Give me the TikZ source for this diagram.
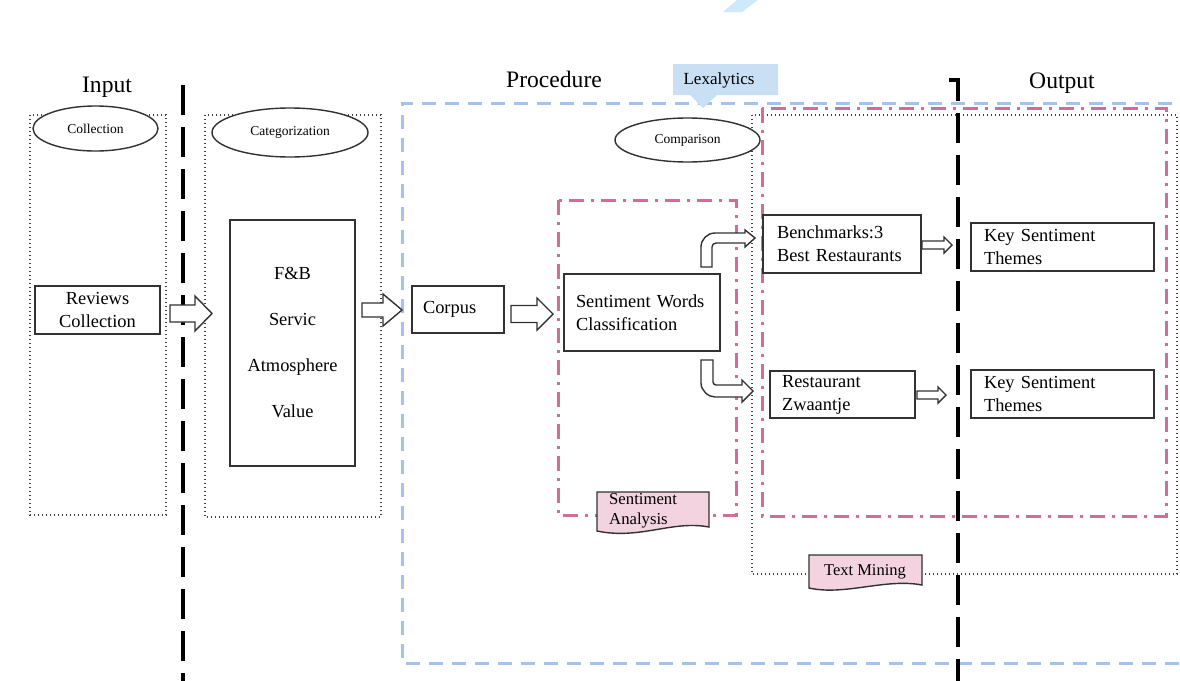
\documentclass[tikz,border=0pt]{standalone}
\usepackage{fontspec}
\setmainfont{Liberation Serif}
\usetikzlibrary{shapes.geometric}

\definecolor{dashblue}{RGB}{164,194,240}
\definecolor{dashpink}{RGB}{210,108,153}
\definecolor{tagpink}{RGB}{243,211,223}
\definecolor{calloutblue}{RGB}{201,223,243}
\definecolor{streakblue}{RGB}{205,234,250}
\definecolor{boxline}{RGB}{50,50,50}

% block arrow: x start, x tip, x of head base, y centre, half body, half head
\newcommand\hollowarrow[6]{%
  \draw[hollow] (#1,#4-#5) -- (#3,#4-#5) -- (#3,#4-#6) -- (#2,#4)
    -- (#3,#4+#6) -- (#3,#4+#5) -- (#1,#4+#5) -- cycle;}

\begin{document}
\begin{tikzpicture}[x=1pt, y=-1pt,
  box/.style={draw=boxline, line width=1.4pt, fill=white, inner sep=0pt,
    font=\fontsize{18.4}{23}\selectfont, align=center},
  lbox/.style={box, align=left},
  oval/.style={ellipse, draw=boxline, line width=1.4pt, fill=white, inner sep=0pt,
    font=\fontsize{13.5}{16}\selectfont},
  heading/.style={anchor=base, font=\fontsize{23.6}{28}\selectfont},
  region/.style={draw=black!75, line width=1.2pt, dash pattern=on 1.2pt off 2.8pt},
  procframe/.style={draw=dashblue, line width=3pt, dash pattern=on 14pt off 9pt},
  pinkframe/.style={draw=dashpink, line width=3pt,
    dash pattern=on 15pt off 7pt on 3pt off 7pt},
  divider/.style={draw=black, line width=3.4pt, dash pattern=on 30pt off 12pt},
  hollow/.style={draw=boxline, line width=1.4pt, fill=white, line join=miter},
  tag/.style={draw=boxline, line width=1.4pt, fill=tagpink},
  tagtext/.style={inner sep=0pt, align=left, font=\fontsize{16.7}{20}\selectfont}]

\fill[white] (0,0) rectangle (1180,680);
\useasboundingbox (0,0) rectangle (1180,680);
\clip (0,0) rectangle (1180,680);

% light streak at the top edge
\fill[streakblue] (723,12) -- (737,0) -- (758,0) -- (742,12) -- cycle;

% column headings
\node[heading] (hin) at (107,92) {Input};
\node[heading] (hproc) at (554,87) {Procedure};
\node[heading] (hout) at (1062,88) {Output};

% dotted stage regions
\draw[region] (30,115) rectangle (166,515);
\draw[region] (205,115) rectangle (381,517);
\draw[region] (752,115) rectangle (1177,574);

% procedure frame (open to the right)
\draw[procframe] (1195,103) -- (402,103) -- (402,663) -- (1195,663);

% stage ovals
\node[oval, minimum width=125, minimum height=45] (coll) at (95.5,128.5) {Collection};
\node[oval, minimum width=156, minimum height=49] (categ) at (290,132.5) {Categorization};
\node[oval, minimum width=145, minimum height=44] (comp) at (687.5,140) {Comparison};

% analysis frames
\draw[pinkframe] (558,200) rectangle (736,515);
\draw[pinkframe] (762,108) rectangle (1166,516);

% section dividers
\draw[divider] (183,85) -- (183,700);
\draw[divider] (949,80) -- (958,80) -- (958,700);

% process boxes
\node[box, minimum width=125, minimum height=48] (rev) at (97.5,310) {Reviews\\Collection};
\node[box, minimum width=125, minimum height=246] (cat) at (292.5,343)
  {F\&B\\[23pt]Servic\\[23pt]Atmosphere\\[23pt]Value};
\node[lbox, inner xsep=11pt, text width=70, minimum height=47] (corpus) at (458,309.5) {Corpus};
\node[lbox, inner xsep=12pt, text width=132, minimum height=77] (swc) at (642,312.5)
  {Sentiment Words\\Classification};
\node[lbox, inner xsep=14pt, text width=130, minimum height=58] (bench) at (842,244)
  {Benchmarks:3\\Best Restaurants};
\node[lbox, inner xsep=12pt, text width=121, minimum height=47] (rz) at (842.5,394.5)
  {Restaurant\\Zwaantje};
\node[lbox, inner xsep=13pt, text width=157, minimum height=48] (kst1) at (1062.5,247)
  {Key Sentiment\\Themes};
\node[lbox, inner xsep=13pt, text width=157, minimum height=48] (kst2) at (1062.5,394)
  {Key Sentiment\\Themes};

% block arrows between stages
\hollowarrow{170}{212}{195}{313.5}{8.5}{17.5}
\hollowarrow{362}{402}{383}{310}{7}{16}
\hollowarrow{511}{553}{537}{314}{8.5}{16}
\hollowarrow{922}{952}{944}{245}{4}{8}
\hollowarrow{917}{946}{938}{395}{4}{8}

% bent arrow up to the benchmarks
\draw[hollow] (701,267) -- (701,247) .. controls (701,239.3) and (707.3,233) .. (715,233)
  -- (745,233) -- (745,230) -- (755,238) -- (745,247) -- (745,243) -- (716,243)
  .. controls (713.8,243) and (712,244.8) .. (712,247) -- (712,267) -- cycle;
% bent arrow down to the restaurant
\draw[hollow] (701,360) -- (701,383) .. controls (701,390.7) and (708.3,397) .. (715,397)
  -- (742,397) -- (742,402) -- (753,391) -- (742,380) -- (742,385) -- (716,385)
  .. controls (714.3,385) and (713,383.7) .. (713,382) -- (713,360) -- cycle;

% frame tags
\draw[tag] (597,492) -- (709,492) -- (709,527)
  .. controls (672,520) and (640,540) .. (597,531) -- cycle;
\node[tagtext, anchor=west] (sa) at (609,511) {Sentiment\\Analysis};
\draw[tag] (809,555) -- (922,555) -- (922,585)
  .. controls (885,578) and (845,596) .. (809,588) -- cycle;
\node[tagtext, font=\fontsize{16.5}{20}\selectfont] (tm) at (865,572) {Text Mining};

% tool callout
\fill[calloutblue] (673,64) -- (778,64) -- (778,95) -- (717,95) -- (703,108)
  -- (690,95) -- (673,95) -- cycle;
\node[inner sep=0pt, font=\fontsize{17}{20}\selectfont] (lex) at (719,80) {Lexalytics};

\end{tikzpicture}
\end{document}
